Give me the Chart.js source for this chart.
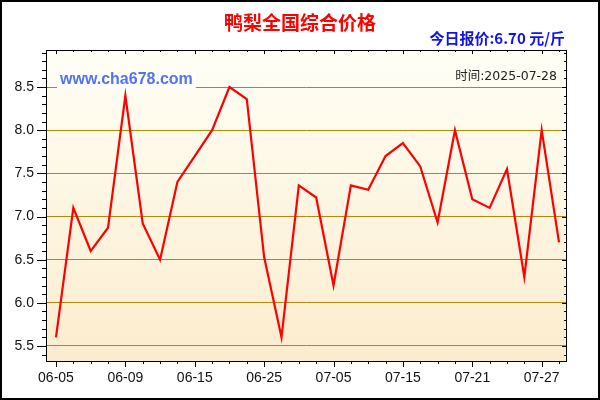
<!DOCTYPE html>
<html>
<head>
<meta charset="utf-8">
<script src="https://cdn.jsdelivr.net/npm/chart.js@4/dist/chart.umd.min.js"></script>
<style>
  html, body { margin: 0; padding: 0; background: #fff; }
  #wrap { width: 600px; height: 400px; }
</style>
</head>
<body>
<div id="wrap"><canvas id="priceChart" width="600" height="400"></canvas></div>
<script>
// 鸭梨全国综合价格, one value per day shown
const dates = ['06-05', '06-06', '06-07', '06-08', '06-09', '06-10', '06-11', '06-12',
    '06-15', '06-17', '06-19', '06-22', '06-25', '06-28', '07-01', '07-03',
    '07-05', '07-08', '07-10', '07-12', '07-15', '07-17', '07-19', '07-20',
    '07-21', '07-23', '07-25', '07-26', '07-27', '07-28'];
const prices = [5.6, 7.1, 6.6, 6.87, 8.4, 6.92, 6.5, 7.4, 7.7, 8.0, 8.5, 8.36, 6.53, 5.6,
    7.36, 7.22, 6.2, 7.36, 7.31, 7.7, 7.85, 7.58, 6.93, 8.0, 7.2, 7.1, 7.55, 6.3, 8.0, 6.7];
const labelIdx = [0, 4, 8, 12, 16, 20, 24, 28];
const yTicks = [5.5, 6.0, 6.5, 7.0, 7.5, 8.0, 8.5];
const yMin = 5.326, yMax = 8.929;
const xMin = -0.576, xMax = 29.46;

const titleText = '鸭梨全国综合价格';
const todayText = '今日报价:6.70 元/斤';
const siteText = 'www.cha678.com';
const timeText = '时间:2025-07-28';

const gridColor = '#b8860b';
const tickFont = { family: 'Liberation Sans, Arial, sans-serif', size: 14 };

const decorPlugin = {
    id: 'decor',
    beforeDraw(chart) {
        const { ctx, chartArea: a } = chart;
        const g = ctx.createLinearGradient(0, a.top, 0, a.bottom);
        g.addColorStop(0, '#fffff6');
        g.addColorStop(1, '#fcecce');
        ctx.save();
        ctx.fillStyle = g;
        ctx.fillRect(a.left, a.top, a.right - a.left, a.bottom - a.top);
        ctx.restore();
    },
    afterDraw(chart) {
        const { ctx, chartArea: a, scales } = chart;
        const xs = scales.x, ys = scales.y;
        ctx.save();
        // watermark
        ctx.font = 'bold 16px Liberation Sans, Arial, sans-serif';
        const w = ctx.measureText(siteText).width;
        ctx.fillStyle = '#ffffff';
        ctx.fillRect(57, 72, w + 6, 16);
        ctx.fillStyle = '#5272f2';
        ctx.textBaseline = 'middle';
        ctx.textAlign = 'left';
        ctx.fillText(siteText, 60, 80);

        ctx.font = '12.5px "DejaVu Sans", "Noto Sans CJK SC", sans-serif';
        ctx.fillStyle = '#222';
        ctx.textAlign = 'right';
        ctx.fillText(timeText, 557, 77);

        // titles
        ctx.font = 'bold 19px "Noto Sans CJK SC", sans-serif';
        ctx.fillStyle = '#ff0000';
        ctx.textAlign = 'center';
        ctx.fillText(titleText, 300, 23);
        ctx.font = 'bold 15px "Noto Sans CJK SC", sans-serif';
        ctx.fillStyle = '#1010f0';
        ctx.textAlign = 'right';
        ctx.fillText(todayText, 565, 38);

        // plot frame and ticks
        ctx.strokeStyle = '#000';
        ctx.lineWidth = 1;
        ctx.strokeRect(Math.round(a.left) + 0.5, Math.round(a.top) + 0.5,
            Math.round(a.right - a.left) - 1, Math.round(a.bottom - a.top));
        ctx.beginPath();
        for (let i = 0; i < prices.length; i++) {
            const px = Math.round(xs.getPixelForValue(i)) + 0.5;
            const major = labelIdx.includes(i);
            ctx.moveTo(px, a.bottom);
            ctx.lineTo(px, a.bottom + (major ? 6 : 3));
            ctx.moveTo(px, a.top);
            ctx.lineTo(px, a.top + (major ? 4 : 2));
        }
        for (let k = 54; k <= 89; k++) {
            const v = k / 10;
            const py = Math.round(ys.getPixelForValue(v)) + 0.5;
            const major = k % 5 === 0;
            ctx.moveTo(a.left, py);
            ctx.lineTo(a.left - (major ? 9 : 4), py);
            ctx.moveTo(a.right, py);
            ctx.lineTo(a.right - (major ? 5 : 3), py);
        }
        ctx.stroke();

        // outer border
        ctx.lineWidth = 2;
        ctx.strokeRect(1, 1, 598, 398);
        ctx.restore();
    }
};

const ctx = document.getElementById('priceChart').getContext('2d');
new Chart(ctx, {
    type: 'line',
    data: {
        datasets: [{
            data: prices.map((v, i) => ({ x: i, y: v })),
            borderColor: '#ff0000',
            borderWidth: 2.2,
            tension: 0,
            pointRadius: 0,
            fill: false
        }]
    },
    options: {
        responsive: false,
        animation: false,
        layout: { padding: { left: 0, right: 33, top: 50, bottom: 0 } },
        plugins: {
            legend: { display: false },
            tooltip: { enabled: false }
        },
        scales: {
            x: {
                type: 'linear',
                min: xMin,
                max: xMax,
                afterFit: s => { s.height = 39; },
                afterBuildTicks: s => { s.ticks = labelIdx.map(i => ({ value: i })); },
                grid: { display: false, drawTicks: false },
                border: { display: false },
                ticks: {
                    autoSkip: false,
                    maxRotation: 0,
                    padding: 9,
                    color: '#111',
                    font: tickFont,
                    callback: v => dates[v]
                }
            },
            y: {
                min: yMin,
                max: yMax,
                afterFit: s => { s.width = 46; },
                afterBuildTicks: s => { s.ticks = yTicks.map(v => ({ value: v })); },
                grid: { color: gridColor, lineWidth: 1, drawTicks: false },
                border: { display: false },
                ticks: {
                    padding: 12,
                    color: '#111',
                    font: tickFont,
                    callback: v => v.toFixed(1)
                }
            }
        }
    },
    plugins: [decorPlugin]
});
</script>
</body>
</html>
